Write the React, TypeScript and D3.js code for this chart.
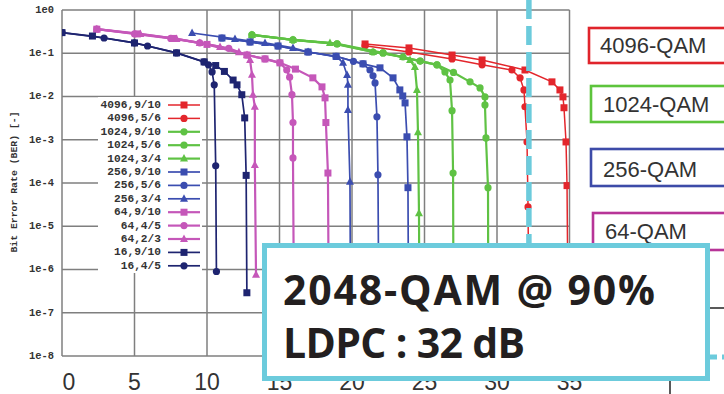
import React from "react";
import * as d3 from "d3";

const W = 724;
const H = 394;

// axis ticks
const xTicks = [0, 5, 10, 15, 20, 25, 30, 35];
const yExps = [0, -1, -2, -3, -4, -5, -6, -7, -8];

// [SNR dB, BER]
const qam16_45 = [[0, 0.3], [2.9, 0.225], [5.0, 0.173], [5.9, 0.147], [7.9, 0.102], [9.8, 0.063], [10.1, 0.054], [10.35, 0.037], [10.5, 0.0186], [10.6, 2.5e-4], [10.65, 9e-7]];
const qam16_910 = [[0, 0.3], [2.1, 0.25], [5.0, 0.173], [7.9, 0.102], [9.8, 0.063], [10.6, 0.052], [11.2, 0.038], [11.8, 0.024], [12.07, 0.0186], [12.4, 0.011], [12.6, 3.2e-3], [12.7, 1.5e-4], [12.75, 2.9e-7]];
const qam64_23 = [[2.4, 0.36], [5.4, 0.28], [7.9, 0.214], [9.5, 0.173], [10.9, 0.14], [12.2, 0.105], [12.76, 0.091], [12.97, 0.07], [13.1, 0.032], [13.17, 0.011], [13.3, 5.8e-3], [13.3, 2.6e-4], [13.38, 7.6e-7]];
const qam64_45 = [[2.4, 0.36], [5.0, 0.28], [7.5, 0.22], [9.5, 0.173], [11.5, 0.13], [12.76, 0.091], [14.0, 0.074], [15.03, 0.06], [15.5, 0.041], [15.7, 0.028], [15.86, 0.011], [15.93, 2.5e-3], [15.93, 3.8e-4], [16.0, 1e-7]];
const qam64_910 = [[2.4, 0.36], [5.2, 0.28], [7.7, 0.22], [10.0, 0.16], [12.76, 0.091], [14.0, 0.074], [15.03, 0.06], [16.1, 0.043], [17.3, 0.027], [17.93, 0.0167], [18.14, 9.3e-3], [18.2, 2.5e-3], [18.34, 1.7e-4], [18.4, 1e-7]];
const qam256_34 = [[8.97, 0.294], [11.93, 0.214], [14.0, 0.173], [15.93, 0.133], [16.97, 0.107], [18.97, 0.082], [19.38, 0.06], [19.66, 0.0315], [19.72, 0.0186], [19.72, 4.9e-3], [19.86, 1.07e-4], [19.9, 1e-7]];
const qam256_56 = [[11.03, 0.225], [12.97, 0.182], [14.9, 0.147], [16.97, 0.107], [18.9, 0.085], [20.1, 0.065], [20.76, 0.057], [21.24, 0.041], [21.45, 0.03], [21.59, 0.0206], [21.72, 3.4e-3], [21.79, 1.55e-4], [21.85, 1e-7]];
const qam256_910 = [[11.03, 0.225], [12.97, 0.182], [14.9, 0.147], [16.97, 0.107], [18.9, 0.085], [20.76, 0.057], [21.93, 0.046], [22.83, 0.027], [23.3, 0.0142], [23.5, 0.0103], [23.66, 7.1e-3], [23.79, 1.17e-3], [23.86, 7.8e-5], [23.9, 1e-7]];
const qam1024_34 = [[13.1, 0.265], [15.93, 0.203], [18.48, 0.173], [21.45, 0.107], [23.52, 0.082], [24.0, 0.07], [24.34, 0.048], [24.48, 0.0142], [24.55, 1.5e-3], [24.62, 2.0e-5], [24.65, 1e-7]];
const qam1024_56 = [[13.1, 0.265], [15.93, 0.203], [18.97, 0.164], [21.45, 0.107], [22.14, 0.102], [23.52, 0.082], [24.7, 0.066], [25.86, 0.054], [26.41, 0.037], [26.76, 0.024], [26.9, 4.7e-3], [26.97, 1.7e-4], [27.0, 1e-7]];
const qam1024_910 = [[13.1, 0.265], [15.93, 0.203], [18.97, 0.164], [22.14, 0.102], [24.7, 0.066], [25.86, 0.054], [27.0, 0.036], [28.14, 0.0218], [28.83, 0.0158], [29.17, 9.8e-3], [29.17, 6.4e-3], [29.24, 1.1e-3], [29.38, 7.8e-5], [29.4, 1e-7]];
const qam4096_56 = [[20.9, 0.15], [23.93, 0.107], [26.9, 0.074], [28.97, 0.054], [31.03, 0.041], [31.59, 0.027], [31.86, 0.0142], [31.93, 5.8e-3], [32.07, 8.9e-4], [32.14, 2.8e-5], [32.2, 1e-7]];
const qam4096_910 = [[20.9, 0.164], [23.93, 0.133], [26.9, 0.091], [28.97, 0.07], [31.93, 0.041], [33.79, 0.0218], [34.34, 0.0142], [34.55, 9.8e-3], [34.62, 5.5e-3], [34.76, 8.9e-4], [34.83, 8.7e-5], [34.9, 1e-7]];

const RED = "#e3262c";
const GREEN = "#5fc244";
const BLUE = "#3b4db0";
const MAGENTA = "#c557b9";
const NAVY = "#1e2470";

const series = [
  { label: "4096,9/10", data: qam4096_910, color: RED, marker: "square", w: 1.5 },
  { label: "4096,5/6", data: qam4096_56, color: RED, marker: "circle", w: 1.5 },
  { label: "1024,9/10", data: qam1024_910, color: GREEN, marker: "circle", w: 2.2 },
  { label: "1024,5/6", data: qam1024_56, color: GREEN, marker: "circle", w: 2.2 },
  { label: "1024,3/4", data: qam1024_34, color: GREEN, marker: "triangle", w: 2.2 },
  { label: "256,9/10", data: qam256_910, color: BLUE, marker: "square", w: 1.7 },
  { label: "256,5/6", data: qam256_56, color: BLUE, marker: "circle", w: 1.7 },
  { label: "256,3/4", data: qam256_34, color: BLUE, marker: "triangle", w: 1.7 },
  { label: "64,9/10", data: qam64_910, color: MAGENTA, marker: "square", w: 2.2 },
  { label: "64,4/5", data: qam64_45, color: MAGENTA, marker: "circle", w: 2.2 },
  { label: "64,2/3", data: qam64_23, color: MAGENTA, marker: "triangle", w: 2.2 },
  { label: "16,9/10", data: qam16_910, color: NAVY, marker: "square", w: 1.7 },
  { label: "16,4/5", data: qam16_45, color: NAVY, marker: "circle", w: 1.7 },
];

const qamBoxes = [
  { label: "4096-QAM", color: "#e0242b", x: 589, y: 28, h: 35, tx: 600, ty: 53 },
  { label: "1024-QAM", color: "#5dc43c", x: 591, y: 86, h: 36, tx: 603, ty: 112 },
  { label: "256-QAM", color: "#3d4ba8", x: 591, y: 149, h: 37, tx: 603, ty: 177 },
  { label: "64-QAM", color: "#b73497", x: 593, y: 213, h: 37, tx: 605, ty: 239 },
];

const CYAN = "#6ccbdc";
const MONO = "'Liberation Mono', 'DejaVu Sans Mono', monospace";

function Marker({ type, x, y, color }) {
  if (type === "square") return <rect x={x - 3.5} y={y - 3.5} width={7} height={7} fill={color} />;
  if (type === "triangle")
    return <path d={`M${x},${y - 4.5}L${x + 4},${y + 3}L${x - 4},${y + 3}Z`} fill={color} />;
  return <circle cx={x} cy={y} r={3.6} fill={color} />;
}

export default function App() {
  const x = d3.scaleLinear().domain([0, 35]).range([62, 569.5]);
  const y = d3.scaleLog().domain([1e-8, 1]).range([356, 10]);
  const line = d3
    .line<number[]>()
    .x((d) => x(d[0]))
    .y((d) => y(d[1]));

  const legendTop = 105;
  const legendStep = 13.4;

  return (
    <svg width={W} height={H} style={{ position: "absolute", left: 0, top: 0, background: "#fff" }}>
      <defs>
        <clipPath id="plot-clip">
          <rect x={62} y={10} width={507.5} height={346} />
        </clipPath>
      </defs>
      <rect width={W} height={H} fill="#fff" />

      {/* grid */}
      {xTicks.map((t) => (
        <line key={"gx" + t} x1={x(t)} x2={x(t)} y1={10} y2={356} stroke="#7f7f7f" strokeWidth={1.5} />
      ))}
      {yExps.map((e) => (
        <line key={"gy" + e} x1={62} x2={569.5} y1={y(Math.pow(10, e))} y2={y(Math.pow(10, e))} stroke="#7f7f7f" strokeWidth={1.5} />
      ))}

      {/* y tick labels */}
      {yExps.map((e) => (
        <text
          key={"ty" + e}
          x={54}
          y={y(Math.pow(10, e))}
          textAnchor="end"
          dominantBaseline="middle"
          fontFamily={MONO}
          fontWeight="bold"
          fontSize={10.4}
          fill="#333"
        >
          {`1e${e}`}
        </text>
      ))}
      <text
        transform="translate(17,182) rotate(-90)"
        textAnchor="middle"
        fontFamily={MONO}
        fontWeight="bold"
        fontSize={9.8}
        fill="#333"
      >
        Bit Error Rate (BER) [-]
      </text>

      {/* legend */}
      <rect x={98} y={97} width={104} height={176} fill="#fff" />
      {series.map((s, i) => {
        const ly = legendTop + i * legendStep;
        return (
          <g key={"lg" + i}>
            <text x={161} y={ly} textAnchor="end" dominantBaseline="middle" fontFamily={MONO} fontWeight="bold" fontSize={11.2} fill="#333">
              {s.label}
            </text>
            <line x1={168} x2={200} y1={ly} y2={ly} stroke={s.color} strokeWidth={s.w} />
            <Marker type={s.marker} x={184} y={ly} color={s.color} />
          </g>
        );
      })}

      {/* curves */}
      <g clipPath="url(#plot-clip)">
        {series.map((s, i) => (
          <g key={"c" + i}>
            <path d={line(s.data) || ""} fill="none" stroke={s.color} strokeWidth={s.w} />
            {s.data.map((d, j) => (
              <Marker key={j} type={s.marker} x={x(d[0])} y={y(d[1])} color={s.color} />
            ))}
          </g>
        ))}
      </g>

      {/* x tick labels */}
      {xTicks.map((t) => (
        <text key={"tx" + t} x={x(t) + (t === 0 ? 7 : 0)} y={390} textAnchor="middle" fontFamily="'Liberation Sans', Arial, sans-serif" fontSize={23} fill="#333">
          {t}
        </text>
      ))}

      {/* QAM label boxes */}
      {qamBoxes.map((b) => (
        <g key={b.label}>
          <rect x={b.x} y={b.y} width={160} height={b.h} fill="#fff" stroke={b.color} strokeWidth={2.6} />
          <text x={b.tx} y={b.ty} fontFamily="'Liberation Sans', Arial, sans-serif" fontSize={22} fill="#333">
            {b.label}
          </text>
        </g>
      ))}

      {/* 32 dB marker */}
      <line x1={x(32.2)} x2={x(32.2)} y1={0} y2={245} stroke={CYAN} strokeWidth={5.5} strokeDasharray="19 7" />
      <line x1={708} x2={724} y1={357} y2={357} stroke={CYAN} strokeWidth={5} strokeDasharray="9 5" />
      <line x1={708} x2={724} y1={308} y2={308} stroke="#222" strokeWidth={1.5} />
      <line x1={670} x2={670} y1={380} y2={394} stroke="#222" strokeWidth={1.5} />

      {/* annotation box */}
      <rect x={264.5} y={245.5} width={443} height={133} fill="#fff" stroke={CYAN} strokeWidth={5} />
      <text x={283} y={305} fontFamily="'Open Sans', Lato, sans-serif" fontWeight="bold" fontSize={41} fill="#231f20" textLength={372} lengthAdjust="spacing">
        2048-QAM @ 90%
      </text>
      <text x={283} y={358} fontFamily="'Open Sans', Lato, sans-serif" fontWeight="bold" fontSize={41} fill="#231f20" textLength={242} lengthAdjust="spacing">
        LDPC : 32 dB
      </text>
    </svg>
  );
}
